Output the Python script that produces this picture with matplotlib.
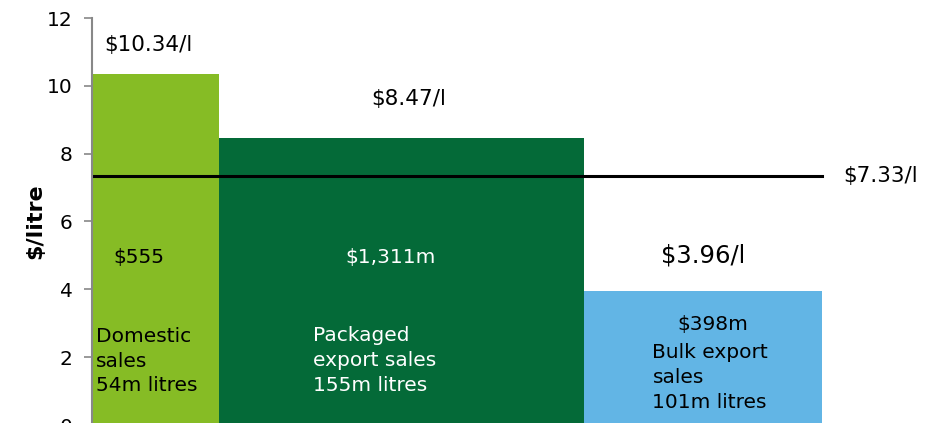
import numpy as np
import matplotlib.pyplot as plt

# Wine sales by channel: value per litre vs volume
segments = ["Domestic\nsales\n54m litres", "Packaged\nexport sales\n155m litres", "Bulk export\nsales\n101m litres"]
volumes = [54, 155, 101]          # m litres (bar widths)
price_per_litre = [10.34, 8.47, 3.96]
price_labels = ["$10.34/l", "$8.47/l", "$3.96/l"]
value_labels = ["$555", "$1,311m", "$398m"]
average_price = 7.33
average_label = "$7.33/l"
colors = ["#86BC25", "#046A38", "#62B5E5"]
text_colors = ["black", "white", "black"]
yticks = [0, 2, 4, 6, 8, 10, 12]

plt.rcParams['font.family'] = ['DejaVu Sans']

fig = plt.figure(figsize=(9.42, 4.23), dpi=100)
ax = fig.add_axes([92 / 942, -2 / 423, 850 / 942, 407 / 423])

lefts = np.concatenate([[0], np.cumsum(volumes)[:-1]])
total = sum(volumes)
ax.bar(lefts, price_per_litre, width=volumes, align='edge', color=colors, linewidth=0)
ax.plot([0, total], [average_price, average_price], color='black', lw=2.2)

ax.set_xlim(0, total * 850 / 730)
ax.set_ylim(0, 12)
ax.set_yticks(yticks)
ax.tick_params(axis='y', labelsize=14.5, color='#888888', length=6, width=1.2, pad=8)
ax.set_xticks([])
for s in ['top', 'right', 'bottom']:
    ax.spines[s].set_visible(False)
ax.spines['left'].set_color('#888888')
ax.spines['left'].set_linewidth(1.5)
ax.set_ylabel("$/litre", fontsize=16, fontweight='bold', labelpad=1)

# price per litre labels above bars
ax.text(lefts[0] + volumes[0] * 0.44, price_per_litre[0] + 0.85, price_labels[0], fontsize=15.5, ha='center', va='center')
ax.text(lefts[1] + volumes[1] * 0.52, price_per_litre[1] + 1.15, price_labels[1], fontsize=15.5, ha='center', va='center')
ax.text(lefts[2] + volumes[2] * 0.5, price_per_litre[2] + 1.05, price_labels[2], fontsize=17.5, ha='center', va='center')
ax.text(total + 9, average_price, average_label, fontsize=15.5, ha='left', va='center')

# value labels
ax.text(lefts[0] + volumes[0] * 0.37, 4.95, value_labels[0], fontsize=14.5, ha='center', va='center', color=text_colors[0])
ax.text(lefts[1] + volumes[1] * 0.47, 4.95, value_labels[1], fontsize=14.5, ha='center', va='center', color=text_colors[1])
ax.text(lefts[2] + volumes[2] * 0.54, 2.97, value_labels[2], fontsize=14.5, ha='center', va='center', color=text_colors[2])

# segment labels
ax.text(lefts[0] + 1.5, 1.88, segments[0], fontsize=14.5, ha='left', va='center', color=text_colors[0], linespacing=1.38)
ax.text(lefts[1] + 40, 1.9, segments[1], fontsize=14.5, ha='left', va='center', color=text_colors[1], linespacing=1.38)
ax.text(lefts[2] + 29, 1.4, segments[2], fontsize=14.5, ha='left', va='center', color=text_colors[2], linespacing=1.38)

fig.savefig("out.png", dpi=100)
